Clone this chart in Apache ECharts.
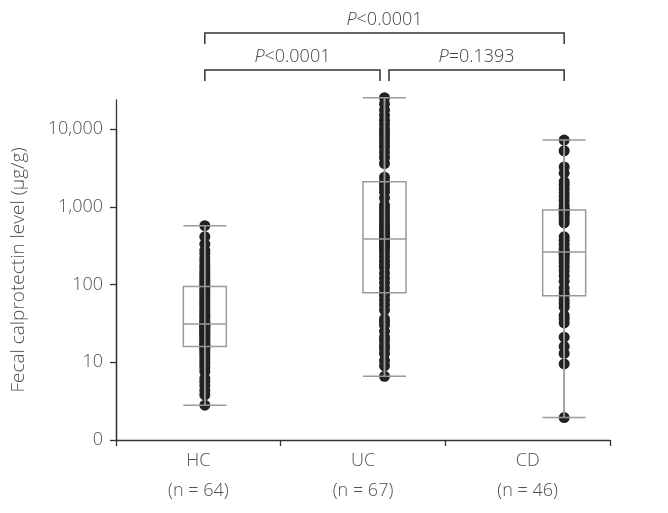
<!DOCTYPE html>
<html><head><meta charset="utf-8">
<script src="https://cdn.jsdelivr.net/npm/echarts@6/dist/echarts.min.js"></script>
<style>html,body{margin:0;padding:0;background:#fff}#c{width:668px;height:513px}</style>
</head><body><div id="c"></div>
<script>
// ---- data ----
const categories = ['HC', 'UC', 'CD'];
const groupSizes = [64, 67, 46];
const yTickLabels = ['0', '10', '100', '1,000', '10,000']; // labels for 10^0 .. 10^4
const yAxisTitle = 'Fecal calprotectin level (\u03bcg/g)';

// box stats: [min, Q1, median, Q3, max]
const boxHC = [2.8, 15.9, 31, 94, 570];
const boxUC = [6.6, 78.5, 385, 2100, 25300];
const boxCD = [1.94, 71.8, 262, 908, 7200];

const pointsHC = [2.8, 3.8, 4.3, 5.0, 5.6, 6.2, 7.6, 8.5, 9.2, 10, 11, 12, 13, 14, 15, 15.5,
  16.5, 17, 18, 19, 20, 21, 22, 23, 24, 25, 26, 27, 28, 29, 30, 30.5,
  31.5, 33, 35, 38, 40, 43, 46, 50, 54, 58, 62, 67, 72, 78, 84, 90,
  98, 105, 112, 120, 130, 140, 150, 165, 180, 200, 220, 250, 275, 330, 412, 570];
const pointsUC = [6.6, 9, 10.5, 13, 15, 16.5, 19, 21, 25, 30, 33, 36, 47, 55, 63, 72,
  78.5, 90, 105, 120, 140, 165, 180, 200, 230, 260, 290, 310, 330, 345, 360, 370, 380,
  385, 400, 420, 450, 480, 520, 560, 620, 680, 760, 850, 950, 1050, 1300, 1550, 1750, 1950,
  2100, 2400, 3600, 4300, 5000, 5800, 6500, 7300, 8200, 9000, 10000, 11500, 13000, 15000, 17500, 21000, 25300];
const pointsCD = [1.94, 9.5, 13, 16, 21, 32, 36, 40, 51, 57, 63, 71.8,
  78, 90, 110, 130, 150, 170, 190, 210, 230, 245, 258,
  266, 290, 330, 370, 410, 620, 680, 740, 800, 850, 908, 960, 1050, 1200, 1350, 1500, 1700, 1900, 2100, 2700, 3250, 5250, 7200];

const comparisons = [
  { from: 0, to: 2, op: '<', p: '0.0001', level: 0 },
  { from: 0, to: 1, op: '<', p: '0.0001', level: 1 },
  { from: 1, to: 2, op: '=', p: '0.1393', level: 1 }
];

// ---- chart ----
const FONT = '"Open Sans", "DejaVu Sans", sans-serif';
const TXT = '#505050';
const AX = '#333';
const boxes = [boxHC, boxUC, boxCD];
const pointSets = [pointsHC, pointsUC, pointsCD];

const chart = echarts.init(document.getElementById('c'), null, { renderer: 'canvas' });

const option = {
  backgroundColor: '#fff',
  animation: false,
  textStyle: { fontFamily: FONT },
  grid: [
    { left: 116, top: 129, width: 494, bottom: 73, containLabel: false, outerBoundsMode: 'none' },   // visible axes
    { left: 116, top: 100, width: 494, bottom: 73, containLabel: false, outerBoundsMode: 'none' },   // y axis line extension
    { left: 115, top: 129, width: 539, bottom: 73, containLabel: false, outerBoundsMode: 'none' }    // data layout
  ],
  xAxis: [
    {
      gridIndex: 0, type: 'category', data: categories.map((c, i) => c + '\n(n = ' + groupSizes[i] + ')'),
      boundaryGap: true,
      axisLine: { show: true, lineStyle: { color: AX, width: 1.3 } },
      axisTick: { show: true, length: 6, alignWithLabel: false, lineStyle: { color: AX, width: 1.3 } },
      axisLabel: { color: TXT, fontSize: 18, fontWeight: 300, lineHeight: 30, margin: 6, fontFamily: FONT },
      splitLine: { show: false }
    },
    { gridIndex: 1, type: 'value', show: false },
    { gridIndex: 2, type: 'category', data: categories, show: false, boundaryGap: true }
  ],
  yAxis: [
    {
      gridIndex: 0, type: 'log', logBase: 10, min: 1, max: 10000,
      axisLine: { show: true, lineStyle: { color: AX, width: 1.3 } },
      axisTick: { show: true, length: 6, lineStyle: { color: AX, width: 1.3 } },
      minorTick: { show: false },
      splitLine: { show: false },
      axisLabel: {
        color: TXT, fontSize: 18, fontWeight: 300, margin: 13, fontFamily: FONT,
        formatter: v => { const k = Math.round(Math.log10(v)); return yTickLabels[k] !== undefined ? yTickLabels[k] : ''; }
      }
    },
    {
      gridIndex: 1, type: 'value', min: 0, max: 1,
      axisLine: { show: true, lineStyle: { color: AX, width: 1.3 } },
      axisTick: { show: false }, axisLabel: { show: false }, splitLine: { show: false },
      name: yAxisTitle, nameLocation: 'middle', nameRotate: 90, nameGap: 88,
      nameTextStyle: { color: TXT, fontSize: 19, fontWeight: 300, fontFamily: FONT }
    },
    { gridIndex: 2, type: 'log', logBase: 10, min: 1, max: 10000, show: false, splitLine: { show: false } }
  ],
  series: [
    {
      type: 'scatter', xAxisIndex: 2, yAxisIndex: 2, clip: false, silent: true,
      symbol: 'circle', symbolSize: 11,
      itemStyle: { color: '#222', opacity: 1 },
      data: pointSets.flatMap((arr, i) => arr.map(v => [categories[i], v])),
      z: 2
    },
    {
      type: 'custom', xAxisIndex: 2, yAxisIndex: 2, silent: true, z: 3,
      data: boxes.map((b, i) => [i, b[0], b[4]]),
      encode: { x: 0, y: [1, 2] },
      renderItem: (params, api) => {
        const p1 = api.coord([api.value(0), api.value(1)]);
        const p2 = api.coord([api.value(0), api.value(2)]);
        return { type: 'line', shape: { x1: p1[0], y1: p1[1], x2: p2[0], y2: p2[1] },
          style: { stroke: '#9a9a9a', lineWidth: 1.5 } };
      }
    },
    {
      type: 'boxplot', xAxisIndex: 2, yAxisIndex: 2, silent: true, z: 4,
      boxWidth: [43, 43],
      itemStyle: { color: 'rgba(0,0,0,0)', borderColor: '#9a9a9a', borderWidth: 1.5 },
      data: boxes
    }
  ]
};
chart.setOption(option);

// significance brackets positioned from the category scale
const levelY = [33, 70];
const leg = 11;
const gap = 4.5;
const els = [];
comparisons.forEach(c => {
  let x1 = chart.convertToPixel({ seriesIndex: 0 }, [categories[c.from], 1])[0];
  let x2 = chart.convertToPixel({ seriesIndex: 0 }, [categories[c.to], 1])[0];
  if (c.level === 1) {
    if (c.from === 1) x1 += gap;
    if (c.to === 1) x2 -= gap;
  }
  const y = levelY[c.level];
  els.push({
    type: 'polyline', silent: true,
    shape: { points: [[x1, y + leg], [x1, y], [x2, y], [x2, y + leg]] },
    style: { stroke: AX, lineWidth: 1.5, fill: null }
  });
  els.push({
    type: 'text', silent: true, x: (x1 + x2) / 2, y: y - 13,
    style: {
      text: '{i|P}{n|' + c.op + c.p + '}', align: 'center', verticalAlign: 'middle',
      rich: {
        i: { fontStyle: 'italic', fontWeight: 300, fontSize: 18, fill: '#444', fontFamily: FONT },
        n: { fontSize: 18, fontWeight: 300, fill: '#444', fontFamily: FONT }
      }
    }
  });
});
chart.setOption({ graphic: { elements: els } });
</script>
</body></html>
